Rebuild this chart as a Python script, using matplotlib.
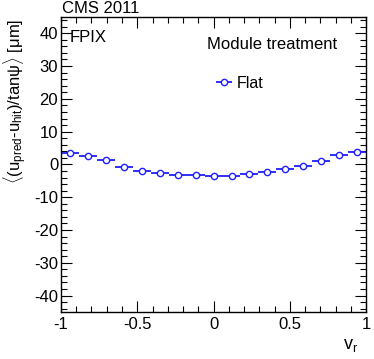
import matplotlib
matplotlib.use("Agg")
import matplotlib.pyplot as plt
import numpy as np
from matplotlib.ticker import MultipleLocator

plt.rcParams["font.family"] = ["Liberation Sans", "DejaVu Sans"]
plt.rcParams["mathtext.fontset"] = "custom"
plt.rcParams["mathtext.rm"] = "Liberation Sans"
plt.rcParams["mathtext.it"] = "Liberation Sans"
plt.rcParams["axes.unicode_minus"] = False

# 17 bins across v_r in [-1, 1]
bin_edges = np.linspace(-1, 1, 18)
bin_centers = 0.5 * (bin_edges[:-1] + bin_edges[1:])
flat_vals = [3.6, 2.6, 1.3, -0.8, -2.0, -2.7, -3.2, -3.2, -3.4, -3.5,
             -2.9, -2.4, -1.5, -0.5, 0.9, 2.9, 3.7]

fig = plt.figure(figsize=(3.74, 3.59), dpi=100)
ax = fig.add_axes([0.163, 0.131, 0.816, 0.822])

half_w = 0.5 * (bin_edges[1] - bin_edges[0])
ax.errorbar(bin_centers, flat_vals, xerr=half_w, fmt="o", color="#1f1fff",
            mfc="white", mec="#1f1fff", ms=4.5, mew=1.0, elinewidth=1.3,
            capsize=0, label="Flat")

ax.set_xlim(-1, 1)
ax.set_ylim(-45, 45)
ax.xaxis.set_major_locator(MultipleLocator(0.5))
ax.xaxis.set_minor_locator(MultipleLocator(0.1))
ax.yaxis.set_major_locator(MultipleLocator(10))
ax.yaxis.set_minor_locator(MultipleLocator(2))
ax.tick_params(which="both", direction="in", top=True, right=True,
               labelsize=12, width=0.8)
ax.tick_params(which="major", length=8)
ax.tick_params(which="minor", length=4)
ax.tick_params(axis="y", pad=2)
ax.xaxis.set_major_formatter(plt.FuncFormatter(lambda v, p: "%g" % v))
for s in ax.spines.values():
    s.set_linewidth(1.0)

ax.set_xlabel(r"v$_\mathregular{r}$", fontsize=13)
ax.xaxis.set_label_coords(0.95, -0.085)
ax.set_ylabel(r"$\langle$(u$_\mathregular{pred}$-u$_\mathregular{hit}$)/tan$\psi\rangle$ [$\mu$m]",
              fontsize=12, loc="top")
ax.yaxis.set_label_coords(-0.105, 0.995)

fig.text(0.166, 0.963, "CMS 2011", fontsize=12)
ax.text(0.028, 0.93, "FPIX", transform=ax.transAxes, fontsize=12, va="center")
ax.text(0.48, 0.905, "Module treatment", transform=ax.transAxes, fontsize=12,
        va="center")
ax.legend(loc="upper left", bbox_to_anchor=(0.455, 0.85), frameon=False,
          fontsize=11.5, handlelength=1.2, handletextpad=0.2)

fig.savefig("out.png", dpi=100)
